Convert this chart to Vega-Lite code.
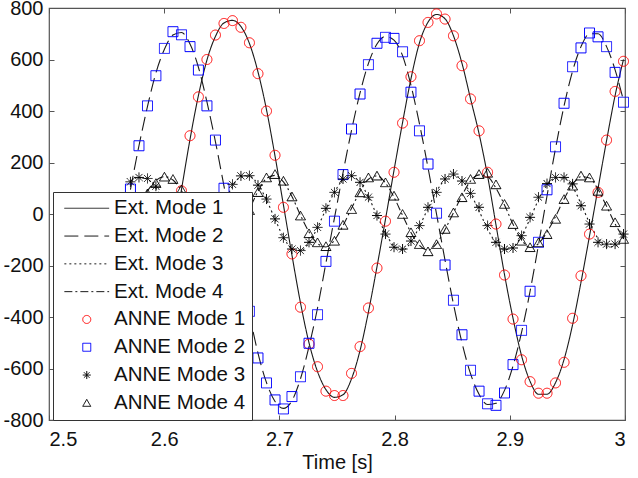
{
  "$schema": "https://vega.github.io/schema/vega-lite/v6.json",
  "width": 576,
  "height": 412,
  "autosize": {"type": "none"},
  "padding": {"left": 49, "top": 8, "right": 13, "bottom": 58},
  "background": "white",
  "config": {
    "view": {"stroke": "#555", "strokeWidth": 1.2},
    "font": "Liberation Sans",
    "axis": {
      "grid": false,
      "domain": false,
      "tickColor": "#555",
      "tickSize": -5,
      "tickWidth": 1,
      "labelFont": "Liberation Sans",
      "labelFontSize": 20,
      "labelColor": "#111",
      "titleFont": "Liberation Sans",
      "titleFontSize": 20,
      "titleFontWeight": "normal",
      "titleColor": "#111"
    },
    "legend": {
      "orient": "none",
      "legendX": 4,
      "legendY": 184,
      "fillColor": "white",
      "strokeColor": "#333",
      "padding": 6,
      "labelFont": "Liberation Sans",
      "labelFontSize": 20.5,
      "labelColor": "#111",
      "symbolSize": 64,
      "symbolStrokeWidth": 1,
      "symbolOffset": 17.5,
      "labelOffset": 17,
      "rowPadding": 6.8,
      "labelLimit": 300
    }
  },
  "data": {
    "values": [
      {"t": 2.5707, "e1": -722, "e2": 95, "e3": 128, "e4": -25, "a1": -722, "a2": 97, "a3": 125, "a4": -30},
      {"t": 2.5781, "e1": -671, "e2": 265, "e3": 142, "e4": 35, "a1": -671, "a2": 265, "a3": 142, "a4": 30},
      {"t": 2.5855, "e1": -578, "e2": 418, "e3": 135, "e4": 90, "a1": -575, "a2": 420, "a3": 138, "a4": 80},
      {"t": 2.5928, "e1": -445, "e2": 548, "e3": 100, "e4": 130, "a1": -442, "a2": 537, "a3": 108, "a4": 120},
      {"t": 2.6002, "e1": -282, "e2": 640, "e3": 45, "e4": 145, "a1": -279, "a2": 643, "a3": 45, "a4": 145},
      {"t": 2.6076, "e1": -100, "e2": 695, "e3": -25, "e4": 132, "a1": -102, "a2": 708, "a3": -30, "a4": 136},
      {"t": 2.6150, "e1": 95, "e2": 705, "e3": -95, "e4": 90, "a1": 90, "a2": 696, "a3": -100, "a4": 95},
      {"t": 2.6224, "e1": 290, "e2": 660, "e3": -135, "e4": 28, "a1": 304, "a2": 650, "a3": -138, "a4": 35},
      {"t": 2.6297, "e1": 460, "e2": 570, "e3": -140, "e4": -40, "a1": 455, "a2": 559, "a3": -140, "a4": -35},
      {"t": 2.6371, "e1": 598, "e2": 435, "e3": -105, "e4": -100, "a1": 600, "a2": 420, "a3": -100, "a4": -95},
      {"t": 2.6445, "e1": 690, "e2": 280, "e3": -40, "e4": -132, "a1": 695, "a2": 287, "a3": -35, "a4": -130},
      {"t": 2.6519, "e1": 742, "e2": 108, "e3": 38, "e4": -135, "a1": 740, "a2": 100, "a3": 40, "a4": -138},
      {"t": 2.6593, "e1": 752, "e2": -65, "e3": 108, "e4": -105, "a1": 751, "a2": -62, "a3": 115, "a4": -110},
      {"t": 2.6666, "e1": 728, "e2": -230, "e3": 143, "e4": -50, "a1": 725, "a2": -220, "a3": 148, "a4": -55},
      {"t": 2.6740, "e1": 662, "e2": -390, "e3": 147, "e4": 18, "a1": 665, "a2": -378, "a3": 149, "a4": 15},
      {"t": 2.6814, "e1": 552, "e2": -540, "e3": 115, "e4": 88, "a1": 545, "a2": -559, "a3": 112, "a4": 85},
      {"t": 2.6888, "e1": 405, "e2": -655, "e3": 55, "e4": 138, "a1": 400, "a2": -656, "a3": 58, "a4": 142},
      {"t": 2.6962, "e1": 225, "e2": -728, "e3": -20, "e4": 150, "a1": 228, "a2": -722, "a3": -19, "a4": 155},
      {"t": 2.7035, "e1": 35, "e2": -755, "e3": -90, "e4": 125, "a1": 26, "a2": -757, "a3": -92, "a4": 129},
      {"t": 2.7109, "e1": -160, "e2": -725, "e3": -135, "e4": 68, "a1": -155, "a2": -709, "a3": -136, "a4": 68},
      {"t": 2.7183, "e1": -345, "e2": -640, "e3": -142, "e4": -5, "a1": -362, "a2": -632, "a3": -142, "a4": -6},
      {"t": 2.7257, "e1": -500, "e2": -515, "e3": -112, "e4": -70, "a1": -505, "a2": -502, "a3": -110, "a4": -75},
      {"t": 2.7331, "e1": -612, "e2": -365, "e3": -52, "e4": -115, "a1": -593, "a2": -391, "a3": -52, "a4": -110},
      {"t": 2.7404, "e1": -682, "e2": -190, "e3": 18, "e4": -128, "a1": -688, "a2": -184, "a3": 22, "a4": -125},
      {"t": 2.7478, "e1": -712, "e2": -15, "e3": 85, "e4": -102, "a1": -705, "a2": -28, "a3": 84, "a4": -104},
      {"t": 2.7552, "e1": -702, "e2": 160, "e3": 132, "e4": -45, "a1": -705, "a2": 153, "a3": 136, "a4": -42},
      {"t": 2.7626, "e1": -640, "e2": 325, "e3": 146, "e4": 22, "a1": -619, "a2": 330, "a3": 149, "a4": 19},
      {"t": 2.7700, "e1": -530, "e2": 470, "e3": 122, "e4": 88, "a1": -515, "a2": 466, "a3": 123, "a4": 84},
      {"t": 2.7773, "e1": -380, "e2": 585, "e3": 66, "e4": 135, "a1": -365, "a2": 580, "a3": 65, "a4": 142},
      {"t": 2.7847, "e1": -205, "e2": 660, "e3": -5, "e4": 148, "a1": -210, "a2": 663, "a3": -6, "a4": 149},
      {"t": 2.7921, "e1": -20, "e2": 690, "e3": -75, "e4": 120, "a1": -28, "a2": 686, "a3": -78, "a4": 123},
      {"t": 2.7995, "e1": 170, "e2": 675, "e3": -124, "e4": 65, "a1": 162, "a2": 682, "a3": -129, "a4": 71},
      {"t": 2.8069, "e1": 355, "e2": 615, "e3": -140, "e4": -5, "a1": 353, "a2": 630, "a3": -136, "a4": 0},
      {"t": 2.8142, "e1": 525, "e2": 500, "e3": -110, "e4": -72, "a1": 533, "a2": 473, "a3": -105, "a4": -71},
      {"t": 2.8216, "e1": 665, "e2": 350, "e3": -48, "e4": -122, "a1": 673, "a2": 323, "a3": -45, "a4": -117},
      {"t": 2.8290, "e1": 745, "e2": 180, "e3": 22, "e4": -140, "a1": 744, "a2": 194, "a3": 26, "a4": -145},
      {"t": 2.8364, "e1": 775, "e2": 0, "e3": 88, "e4": -115, "a1": 777, "a2": 3, "a3": 84, "a4": -117},
      {"t": 2.8438, "e1": 758, "e2": -180, "e3": 134, "e4": -60, "a1": 757, "a2": -198, "a3": 136, "a4": -58},
      {"t": 2.8511, "e1": 692, "e2": -350, "e3": 150, "e4": 5, "a1": 692, "a2": -335, "a3": 155, "a4": 6},
      {"t": 2.8585, "e1": 585, "e2": -500, "e3": 132, "e4": 72, "a1": 576, "a2": -469, "a3": 128, "a4": 65},
      {"t": 2.8659, "e1": 448, "e2": -620, "e3": 80, "e4": 128, "a1": 447, "a2": -607, "a3": 80, "a4": 136},
      {"t": 2.8733, "e1": 312, "e2": -700, "e3": 12, "e4": 152, "a1": 323, "a2": -688, "a3": 26, "a4": 155},
      {"t": 2.8807, "e1": 148, "e2": -740, "e3": -58, "e4": 145, "a1": 162, "a2": -737, "a3": -45, "a4": 160},
      {"t": 2.8880, "e1": -42, "e2": -735, "e3": -112, "e4": 100, "a1": -39, "a2": -743, "a3": -110, "a4": 115},
      {"t": 2.8954, "e1": -235, "e2": -685, "e3": -138, "e4": 35, "a1": -237, "a2": -695, "a3": -136, "a4": 39},
      {"t": 2.9028, "e1": -405, "e2": -590, "e3": -128, "e4": -40, "a1": -408, "a2": -585, "a3": -132, "a4": -39},
      {"t": 2.9102, "e1": -550, "e2": -460, "e3": -85, "e4": -100, "a1": -566, "a2": -452, "a3": -84, "a4": -104},
      {"t": 2.9176, "e1": -650, "e2": -300, "e3": -18, "e4": -130, "a1": -651, "a2": -300, "a3": -13, "a4": -129},
      {"t": 2.9249, "e1": -700, "e2": -120, "e3": 55, "e4": -115, "a1": -696, "a2": -110, "a3": 65, "a4": -110},
      {"t": 2.9323, "e1": -700, "e2": 70, "e3": 112, "e4": -70, "a1": -696, "a2": 94, "a3": 118, "a4": -78},
      {"t": 2.9397, "e1": -655, "e2": 255, "e3": 140, "e4": -10, "a1": -656, "a2": 261, "a3": 142, "a4": -19},
      {"t": 2.9471, "e1": -565, "e2": 420, "e3": 140, "e4": 58, "a1": -576, "a2": 430, "a3": 142, "a4": 58},
      {"t": 2.9545, "e1": -430, "e2": 555, "e3": 105, "e4": 115, "a1": -405, "a2": 572, "a3": 117, "a4": 110},
      {"t": 2.9618, "e1": -265, "e2": 650, "e3": 40, "e4": 145, "a1": -240, "a2": 645, "a3": 32, "a4": 149},
      {"t": 2.9692, "e1": -85, "e2": 700, "e3": -35, "e4": 140, "a1": -78, "a2": 703, "a3": -39, "a4": 142},
      {"t": 2.9766, "e1": 100, "e2": 700, "e3": -95, "e4": 95, "a1": 84, "a2": 688, "a3": -110, "a4": 90},
      {"t": 2.9840, "e1": 285, "e2": 650, "e3": -128, "e4": 30, "a1": 287, "a2": 650, "a3": -117, "a4": 32},
      {"t": 2.9914, "e1": 460, "e2": 560, "e3": -125, "e4": -38, "a1": 476, "a2": 550, "a3": -117, "a4": -32},
      {"t": 2.9987, "e1": 600, "e2": 440, "e3": -82, "e4": -95, "a1": 593, "a2": 434, "a3": -78, "a4": -97}
    ]
  },
  "transform": [
    {"fold": ["e1", "e2", "e3", "e4", "a1", "a2", "a3", "a4"], "as": ["s", "v"]}
  ],
  "layer": [
    {
      "transform": [{"filter": {"field": "s", "oneOf": ["e1", "e2", "e3", "e4"]}}],
      "mark": {"type": "line", "strokeWidth": 1.1, "interpolate": "monotone"},
      "encoding": {
        "x": {
          "field": "t",
          "type": "quantitative",
          "scale": {"domain": [2.5, 3], "nice": false, "zero": false},
          "axis": {
            "orient": "bottom",
            "values": [2.5, 2.6, 2.7, 2.8, 2.9, 3],
            "format": ".1~f",
            "title": "Time [s]",
            "labelPadding": 14,
            "titlePadding": 3
          }
        },
        "y": {
          "field": "v",
          "type": "quantitative",
          "scale": {"domain": [-800, 800], "nice": false},
          "axis": {
            "orient": "left",
            "values": [-800, -600, -400, -200, 0, 200, 400, 600, 800],
            "labelExpr": "datum.value < 0 ? '-' + toString(abs(datum.value)) : toString(datum.value)",
            "title": null,
            "labelPadding": 11
          }
        },
        "color": {
          "field": "s",
          "type": "nominal",
          "scale": {
            "domain": ["e1", "e2", "e3", "e4", "a1", "a2", "a3", "a4"],
            "range": ["#1a1a1a", "#1a1a1a", "#1a1a1a", "#1a1a1a", "#ff0000", "#0000ff", "#000000", "#000000"]
          },
          "legend": {
            "title": null,
            "labelExpr": "(substring(datum.label, 0, 1) == 'e' ? 'Ext. Mode ' : 'ANNE Mode ') + substring(datum.label, 1)"
          }
        },
        "strokeDash": {
          "field": "s",
          "type": "nominal",
          "scale": {
            "domain": ["e1", "e2", "e3", "e4", "a1", "a2", "a3", "a4"],
            "range": [[1, 0], [14, 6], [2, 3], [8, 3, 2, 3], [1, 0], [1, 0], [1, 0], [1, 0]]
          },
          "legend": {
            "title": null,
            "labelExpr": "(substring(datum.label, 0, 1) == 'e' ? 'Ext. Mode ' : 'ANNE Mode ') + substring(datum.label, 1)"
          }
        }
      }
    },
    {
      "transform": [{"filter": {"field": "s", "oneOf": ["a1", "a2", "a3", "a4"]}}],
      "mark": {"type": "point", "filled": false, "size": 100, "strokeWidth": 1, "opacity": 1},
      "encoding": {
        "x": {
          "field": "t",
          "type": "quantitative",
          "axis": {"orient": "top", "values": [2.5, 2.6, 2.7, 2.8, 2.9, 3], "labels": false, "title": null}
        },
        "y": {
          "field": "v",
          "type": "quantitative",
          "axis": {"orient": "right", "values": [-800, -600, -400, -200, 0, 200, 400, 600, 800], "labels": false, "title": null}
        },
        "color": {
          "field": "s",
          "type": "nominal",
          "scale": {
            "domain": ["e1", "e2", "e3", "e4", "a1", "a2", "a3", "a4"],
            "range": ["#1a1a1a", "#1a1a1a", "#1a1a1a", "#1a1a1a", "#ff0000", "#0000ff", "#000000", "#000000"]
          },
          "legend": {
            "title": null,
            "labelExpr": "(substring(datum.label, 0, 1) == 'e' ? 'Ext. Mode ' : 'ANNE Mode ') + substring(datum.label, 1)"
          }
        },
        "shape": {
          "field": "s",
          "type": "nominal",
          "scale": {
            "domain": ["e1", "e2", "e3", "e4", "a1", "a2", "a3", "a4"],
            "range": ["M-5.6,0H5.6", "M-5.6,0H5.6", "M-5.6,0H5.6", "M-5.6,0H5.6", "circle", "square", "M0,-1V1M-1,0H1M-0.7,-0.7L0.7,0.7M-0.7,0.7L0.7,-0.7", "triangle-up"]
          },
          "legend": {
            "title": null,
            "labelExpr": "(substring(datum.label, 0, 1) == 'e' ? 'Ext. Mode ' : 'ANNE Mode ') + substring(datum.label, 1)"
          }
        },
        "strokeDash": {
          "field": "s",
          "type": "nominal",
          "scale": {
            "domain": ["e1", "e2", "e3", "e4", "a1", "a2", "a3", "a4"],
            "range": [[1, 0], [14, 6], [2, 3], [8, 3, 2, 3], [1, 0], [1, 0], [1, 0], [1, 0]]
          },
          "legend": {
            "title": null,
            "labelExpr": "(substring(datum.label, 0, 1) == 'e' ? 'Ext. Mode ' : 'ANNE Mode ') + substring(datum.label, 1)"
          }
        }
      }
    }
  ]
}
